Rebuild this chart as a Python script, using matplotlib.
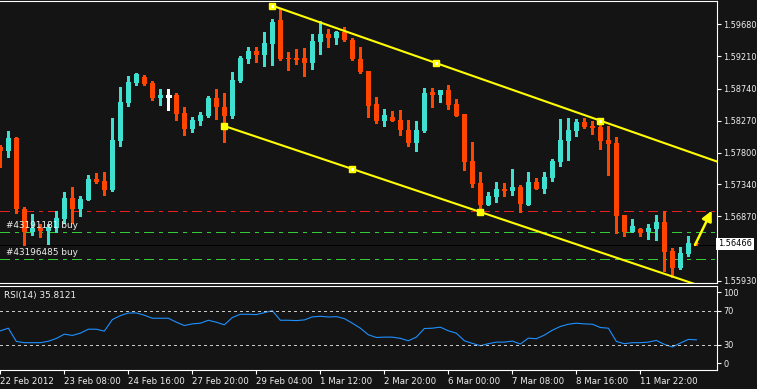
import numpy as np
import matplotlib
matplotlib.use('Agg')
import matplotlib.pyplot as plt
import matplotlib.transforms as mtransforms

# H4 candles, 22 Feb 2012 .. 12 Mar 2012
opens = [
    1.57885, 1.57826, 1.58016, 1.56978, 1.56642, 1.56700, 1.56656, 1.56700, 1.56832, 1.57139,
    1.56978, 1.57110, 1.57417, 1.57387, 1.57256, 1.57972, 1.58529, 1.58821, 1.58909, 1.58821,
    1.58602, 1.58635, 1.58645, 1.58382, 1.58149, 1.58265, 1.58338, 1.58602, 1.58470, 1.58338,
    1.58850, 1.59172, 1.59289, 1.59231, 1.59391, 1.59743, 1.59186, 1.59186, 1.59186, 1.59113,
    1.59421, 1.59538, 1.59479, 1.59567, 1.59450, 1.59172, 1.58996, 1.58514, 1.58265, 1.58324,
    1.58280, 1.58134, 1.57944, 1.58119, 1.58689, 1.58645, 1.58719, 1.58514, 1.58367, 1.57680,
    1.57358, 1.57037, 1.57154, 1.57270, 1.57241, 1.57300, 1.57037, 1.57373, 1.57270, 1.57431,
    1.57665, 1.57972, 1.58119, 1.58251, 1.58192, 1.58178, 1.57987, 1.57944, 1.56890, 1.56642,
    1.56686, 1.56642, 1.56686, 1.56788, 1.56364, 1.56115, 1.56320, 1.56481]
highs = [
    1.57914, 1.58119, 1.58031, 1.57007, 1.56904, 1.56758, 1.56758, 1.56949, 1.57227, 1.57300,
    1.57168, 1.57475, 1.57504, 1.57519, 1.58309, 1.58763, 1.58924, 1.58967, 1.58938, 1.58850,
    1.58733, 1.58733, 1.58675, 1.58470, 1.58324, 1.58397, 1.58631, 1.58733, 1.58675, 1.58982,
    1.59216, 1.59348, 1.59348, 1.59567, 1.59757, 1.59903, 1.59274, 1.59318, 1.59333, 1.59538,
    1.59728, 1.59611, 1.59582, 1.59640, 1.59479, 1.59348, 1.58996, 1.58616, 1.58441, 1.58411,
    1.58426, 1.58280, 1.58265, 1.58748, 1.58748, 1.58719, 1.58792, 1.58587, 1.58367, 1.57958,
    1.57519, 1.57227, 1.57373, 1.57358, 1.57563, 1.57329, 1.57519, 1.57431, 1.57519, 1.57709,
    1.58295, 1.58309, 1.58295, 1.58309, 1.58265, 1.58265, 1.58192, 1.58031, 1.56890, 1.56832,
    1.56700, 1.56758, 1.56890, 1.56949, 1.56408, 1.56422, 1.56583, 1.56496]
lows = [
    1.57592, 1.57739, 1.56919, 1.56452, 1.56598, 1.56569, 1.56466, 1.56642, 1.56773, 1.56773,
    1.56875, 1.57110, 1.57358, 1.57183, 1.57241, 1.57900, 1.58485, 1.58792, 1.58792, 1.58572,
    1.58499, 1.58426, 1.58280, 1.58061, 1.58104, 1.58207, 1.58324, 1.58295, 1.57958, 1.58309,
    1.58836, 1.59113, 1.59128, 1.59070, 1.59084, 1.59157, 1.59011, 1.59099, 1.58924, 1.59026,
    1.59245, 1.59348, 1.59391, 1.59435, 1.59157, 1.58967, 1.58324, 1.58236, 1.58192, 1.58265,
    1.58061, 1.57900, 1.57826, 1.58104, 1.58470, 1.58543, 1.58441, 1.58338, 1.57548, 1.57300,
    1.56919, 1.57037, 1.57081, 1.57168, 1.57183, 1.56934, 1.57037, 1.57270, 1.57212, 1.57387,
    1.57607, 1.57695, 1.58046, 1.58163, 1.58075, 1.57856, 1.57475, 1.56627, 1.56583, 1.56642,
    1.56583, 1.56540, 1.56525, 1.56071, 1.55984, 1.56100, 1.56291, 1.56452]
closes = [
    1.57826, 1.58016, 1.56978, 1.56642, 1.56700, 1.56656, 1.56715, 1.56846, 1.57139, 1.56978,
    1.57124, 1.57417, 1.57373, 1.57256, 1.57987, 1.58543, 1.58836, 1.58953, 1.58806, 1.58602,
    1.58645, 1.58635, 1.58367, 1.58149, 1.58280, 1.58353, 1.58602, 1.58470, 1.58338, 1.58865,
    1.59186, 1.59289, 1.59231, 1.59406, 1.59713, 1.59172, 1.59172, 1.59157, 1.59113, 1.59435,
    1.59538, 1.59479, 1.59567, 1.59450, 1.59172, 1.58982, 1.58485, 1.58265, 1.58353, 1.58265,
    1.58134, 1.57944, 1.58134, 1.58675, 1.58645, 1.58719, 1.58499, 1.58338, 1.57665, 1.57343,
    1.57037, 1.57168, 1.57270, 1.57241, 1.57300, 1.57051, 1.57373, 1.57270, 1.57446, 1.57680,
    1.57987, 1.58134, 1.58251, 1.58178, 1.58163, 1.57972, 1.57929, 1.56875, 1.56642, 1.56729,
    1.56627, 1.56700, 1.56788, 1.56349, 1.56115, 1.56335, 1.56481, 1.56466]

rsi = [
    46.5, 49.6, 33.9, 32.4, 32.4, 32.4, 34.1, 37.4, 42.5, 41.0,
    43.7, 48.4, 48.4, 46.1, 59.8, 64.5, 67.6, 67.7, 65.0, 61.4,
    61.4, 61.4, 56.7, 52.8, 54.7, 55.5, 59.0, 56.7, 53.6, 62.2,
    66.1, 66.1, 65.7, 68.0, 70.4, 59.0, 59.0, 58.6, 59.4, 63.0,
    63.7, 62.9, 63.3, 61.0, 55.5, 49.6, 41.8, 38.6, 39.0, 39.0,
    37.5, 34.7, 39.0, 49.2, 49.6, 50.8, 46.5, 43.7, 34.7, 31.6,
    28.8, 31.2, 33.1, 33.1, 34.3, 30.8, 37.8, 37.1, 41.4, 47.2,
    51.6, 54.3, 55.5, 54.7, 54.3, 50.4, 49.6, 33.9, 31.2, 32.4,
    32.4, 33.1, 35.1, 30.4, 27.3, 32.0, 36.3, 35.8]

time_labels = ["22 Feb 2012", "23 Feb 08:00", "24 Feb 16:00", "27 Feb 20:00",
               "29 Feb 04:00", "1 Mar 12:00", "2 Mar 20:00", "6 Mar 00:00",
               "7 Mar 08:00", "8 Mar 16:00", "11 Mar 22:00"]
price_ticks = [1.59680, 1.59210, 1.58740, 1.58270, 1.57800, 1.57340, 1.56870, 1.55930]

# channel anchors (bar index, price)
upper_x = [34, 54.5, 75]
upper_p = [1.59952, 1.59118, 1.58270]
lower_x = [28, 44, 60]
lower_p = [1.58192, 1.57563, 1.56934]

# order levels
tp_level = 1.56945
order1 = 1.56637
order2 = 1.56242
bid = 1.56466
bid_line = 1.56450

arrow_from = (86.83, 1.56452)
arrow_to = (88.92, 1.56953)

BG = '#141414'
BULL = '#40e0d0'
BEAR = '#ff4500'
TXT = '#f0f0f0'


def main():
    plt.rcParams['font.family'] = 'DejaVu Sans'
    plt.rcParams['lines.scale_dashes'] = False
    W, H = 757, 389
    fig = plt.figure(figsize=(W / 100, H / 100), dpi=100, facecolor=BG)
    ax = fig.add_axes([0, 1 - 283.3 / H, 717 / W, 282.3 / H], facecolor=BG)
    ax2 = fig.add_axes([0, 1 - 370 / H, 717 / W, 84.3 / H], facecolor=BG)

    o = np.array(opens); h = np.array(highs); l = np.array(lows); c = np.array(closes)
    idx = np.arange(len(o))
    flat = c == o
    cols = np.where(c > o, BULL, np.where(c < o, BEAR, 'white'))

    ax.vlines(idx, l, h, colors=cols, lw=0.75, antialiased=False, zorder=2)
    ax.bar(idx[~flat], np.abs(c - o)[~flat], bottom=np.minimum(o, c)[~flat],
           width=0.62, color=cols[~flat], linewidth=0, antialiased=False, zorder=3)
    ax.hlines(c[flat], idx[flat] - 0.31, idx[flat] + 0.31, colors='white', lw=0.75,
              antialiased=False, zorder=3)

    # order lines
    dashdot = (0, (6.5, 4.3, 2.2, 4.3))
    ax.axhline(tp_level, color='#e82020', lw=0.72, ls=dashdot, antialiased=False, zorder=1)
    ax.axhline(order1, color='#32cd32', lw=0.72, ls=dashdot, antialiased=False, zorder=1)
    ax.axhline(order2, color='#32cd32', lw=0.72, ls=dashdot, antialiased=False, zorder=1)
    ax.axhline(bid_line, color='black', lw=0.72, antialiased=False, zorder=1)
    ax.annotate('#43191181 buy', xy=(0.71, order1), xytext=(0, 1.5),
                textcoords='offset points', color=TXT, fontsize=6.4, va='bottom', zorder=5)
    ax.annotate('#43196485 buy', xy=(0.71, order2), xytext=(0, 1.5),
                textcoords='offset points', color=TXT, fontsize=6.4, va='bottom', zorder=5)

    # channel
    xmax = 91
    for xs, ps, centers in [(upper_x, upper_p, [True, True, True]),
                            (lower_x, lower_p, [False, True, False])]:
        slope = (ps[-1] - ps[0]) / (xs[-1] - xs[0])
        ax.plot([xs[0], xmax], [ps[0], ps[0] + slope * (xmax - xs[0])],
                color='#ffff00', lw=1.5, zorder=4)
        ax.plot(xs, ps, 's', color='#ffff00', ms=4, zorder=5)
        for x, p, cc in zip(xs, ps, centers):
            if cc:
                ax.plot(x, p, 's', color='white', ms=1.2, zorder=6)

    ax.annotate('', xy=arrow_to, xytext=arrow_from,
                arrowprops=dict(arrowstyle='-|>,head_length=0.6,head_width=0.3',
                                color='#ffff00', lw=1.8, shrinkA=0, shrinkB=0), zorder=6)

    ax.set_xlim(-0.04, 89.58)
    ax.set_ylim(1.55891, 1.60020)
    ax.set_xticks([])
    ax.yaxis.tick_right()
    ax.set_yticks(price_ticks)
    ax.set_yticklabels(['%.5f' % p for p in price_ticks])
    ax.tick_params(axis='y', colors='white', labelcolor=TXT, length=3, width=0.8,
                   pad=1.5, labelsize=5.9)

    trans = mtransforms.blended_transform_factory(ax.transAxes, ax.transData)
    ax.text(1.0015, bid, '%.5f' % bid, transform=trans, ha='left', va='center',
            fontsize=5.9, color='black', clip_on=False,
            bbox=dict(boxstyle='square,pad=0.2', fc='white', ec='none'))

    # RSI panel
    ax2.plot(idx, rsi, color='#1e90ff', lw=0.8)
    for lvl in (70, 30):
        ax2.axhline(lvl, color='#c8c8c8', lw=0.72, ls=(0, (1.5, 2.2)), antialiased=False)
    ax2.text(4 / 717, 0.881, 'RSI(14) 35.8121', transform=ax2.transAxes,
             color=TXT, fontsize=6.4, ha='left', va='center')
    ax2.set_xlim(-0.04, 89.58)
    ax2.set_ylim(0, 100)
    ax2.yaxis.tick_right()
    ax2.set_yticks([8.3, 30, 70, 92.5])
    ax2.set_yticklabels(['0', '30', '70', '100'])
    ax2.set_xticks(np.arange(0, 88, 8))
    ax2.set_xticklabels(time_labels)
    for lbl in ax2.get_xticklabels():
        lbl.set_ha('left')
    ax2.tick_params(colors='white', labelcolor=TXT, length=3, width=0.8,
                    pad=2, labelsize=6.2)
    ax2.tick_params(axis='y', pad=1.5, labelsize=5.9)

    for a in (ax, ax2):
        a.spines['left'].set_visible(False)
        for s in ('top', 'right', 'bottom'):
            a.spines[s].set_color('white')
            a.spines[s].set_linewidth(0.8)

    fig.savefig('out.png', dpi=100, facecolor=BG)


if __name__ == "__main__":
    main()
